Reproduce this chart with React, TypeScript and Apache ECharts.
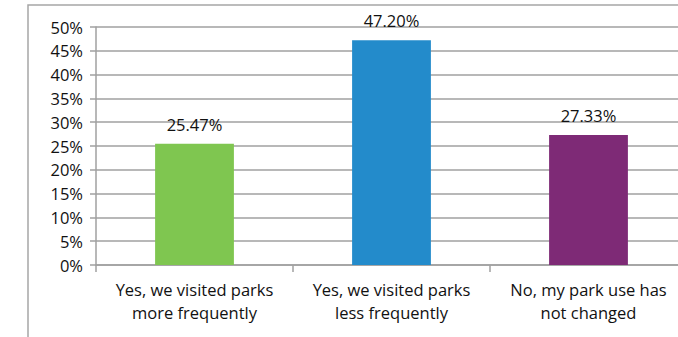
import React, { useEffect, useRef } from "react";
import * as echarts from "echarts";

const categories = [
  "Yes, we visited parks\nmore frequently",
  "Yes, we visited parks\nless frequently",
  "No, my park use has\nnot changed",
];
const values = [25.47, 47.2, 27.33];
const barColors = ["#7fc650", "#238bcb", "#7e2a76"];
const yTicks = { min: 0, max: 50, interval: 5 };

export default function App() {
  const ref = useRef<HTMLDivElement>(null);
  useEffect(() => {
    if (!ref.current) return;
    const chart = echarts.init(ref.current, null, { renderer: "svg" });
    const font = "'Open Sans', 'Noto Sans', sans-serif";
    chart.setOption({
      animation: false,
      graphic: [
        {
          type: "rect",
          shape: { x: 28, y: 5, width: 700, height: 400 },
          style: { fill: "none", stroke: "#a6a6a6", lineWidth: 1.5 },
          silent: true,
        },
      ],
      grid: {
        left: 96,
        top: 27,
        bottom: 72,
        width: 591,
        containLabel: false,
        outerBoundsMode: "none",
      },
      xAxis: {
        type: "category",
        data: categories,
        axisLine: { show: true, lineStyle: { color: "#a0a0a0", width: 1.5 } },
        axisTick: { show: true, length: 7, lineStyle: { color: "#a0a0a0", width: 1.5 } },
        axisLabel: {
          color: "#111",
          fontFamily: font,
          fontSize: 16.5,
          lineHeight: 23,
          margin: 13,
          interval: 0,
        },
      },
      yAxis: {
        type: "value",
        min: yTicks.min,
        max: yTicks.max,
        interval: yTicks.interval,
        axisLine: { show: true, lineStyle: { color: "#a0a0a0", width: 1.5 } },
        axisTick: { show: true, length: 6, lineStyle: { color: "#a0a0a0", width: 1.5 } },
        splitLine: { show: true, lineStyle: { color: "#a0a0a0", width: 1.5 } },
        axisLabel: {
          color: "#111",
          fontFamily: font,
          fontSize: 16.5,
          margin: 13,
          formatter: (v: number) => v + "%",
        },
      },
      series: [
        {
          type: "bar",
          barWidth: "40%",
          data: values.map((v, i) => ({ value: v, itemStyle: { color: barColors[i] } })),
          label: {
            show: true,
            position: "top",
            distance: 11,
            color: "#111",
            fontFamily: font,
            fontSize: 16.5,
            formatter: (p: any) => p.value.toFixed(2) + "%",
          },
        },
      ],
    });
    return () => chart.dispose();
  }, []);
  return (
    <div
      ref={ref}
      style={{ position: "fixed", left: 0, top: 0, width: 678, height: 337, background: "#fff" }}
    />
  );
}
